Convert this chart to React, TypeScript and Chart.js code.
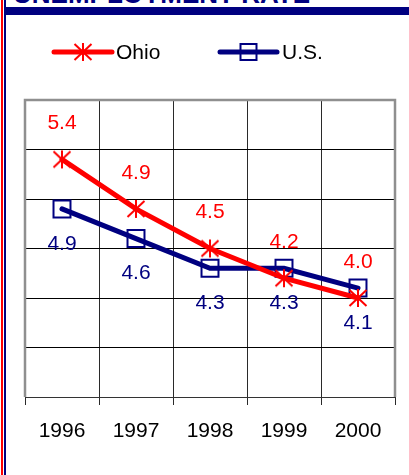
import React, { useEffect, useRef } from "react";
import { Chart, registerables } from "chart.js";

Chart.register(...registerables);

const titleText = "UNEMPLOYMENT RATE";
const years = ["1996", "1997", "1998", "1999", "2000"];
const ohioValues = [5.4, 4.9, 4.5, 4.2, 4.0];
const usValues = [4.9, 4.6, 4.3, 4.3, 4.1];
const seriesNames = ["Ohio", "U.S."];
const yMin = 3;
const yMax = 6;
const yStep = 0.5;

const RED = "#FF0000";
const NAVY = "#000080";
const FONT = "Arial, 'Liberation Sans', sans-serif";

function makeAsterisk(color: string): HTMLCanvasElement {
  const c = document.createElement("canvas");
  const s = 22;
  c.width = s;
  c.height = s;
  const ctx = c.getContext("2d")!;
  const cx = s / 2;
  const cy = s / 2;
  ctx.strokeStyle = color;
  ctx.lineWidth = 2;
  ctx.beginPath();
  ctx.moveTo(cx, cy - 9);
  ctx.lineTo(cx, cy + 9);
  ctx.moveTo(cx - 8.5, cy - 8);
  ctx.lineTo(cx + 8.5, cy + 8);
  ctx.moveTo(cx + 8.5, cy - 8);
  ctx.lineTo(cx - 8.5, cy + 8);
  ctx.stroke();
  return c;
}

export default function App() {
  const ref = useRef<HTMLCanvasElement | null>(null);

  useEffect(() => {
    if (!ref.current) return;
    const aster = makeAsterisk(RED);

    const framePlugin = {
      id: "frame",
      beforeDatasetsDraw(chart: any) {
        const { ctx, chartArea: a } = chart;
        ctx.save();
        ctx.strokeStyle = "#8f8f8f";
        ctx.lineWidth = 2.5;
        ctx.beginPath();
        ctx.moveTo(a.left, a.bottom);
        ctx.lineTo(a.left, a.top);
        ctx.lineTo(a.right, a.top);
        ctx.lineTo(a.right, a.bottom);
        ctx.stroke();
        ctx.restore();
      },
    };

    const labelPlugin = {
      id: "vlabels",
      afterDatasetsDraw(chart: any) {
        const { ctx } = chart;
        ctx.save();
        ctx.font = `21px ${FONT}`;
        ctx.textAlign = "center";
        ctx.textBaseline = "middle";
        chart.data.datasets.forEach((ds: any, di: number) => {
          const meta = chart.getDatasetMeta(di);
          ctx.fillStyle = ds.borderColor;
          meta.data.forEach((pt: any, i: number) => {
            const v = ds.data[i] as number;
            const dy = di === 0 ? -36 : 35;
            ctx.fillText(v.toFixed(1), pt.x, pt.y + dy);
          });
        });
        ctx.restore();
      },
    };

    const legendPlugin = {
      id: "customLegend",
      afterDraw(chart: any) {
        const { ctx } = chart;
        const items = [
          { name: seriesNames[0], color: RED, x0: 54, x1: 112, tx: 116, kind: "ast" },
          { name: seriesNames[1], color: NAVY, x0: 220, x1: 277, tx: 282, kind: "rect" },
        ];
        const y = 52;
        ctx.save();
        items.forEach((it) => {
          ctx.strokeStyle = it.color;
          ctx.lineWidth = 5;
          ctx.lineCap = "round";
          ctx.beginPath();
          ctx.moveTo(it.x0, y);
          ctx.lineTo(it.x1, y);
          ctx.stroke();
          const mx = (it.x0 + it.x1) / 2;
          if (it.kind === "ast") {
            ctx.drawImage(aster, mx - aster.width / 2, y - aster.height / 2);
          } else {
            ctx.lineWidth = 2;
            ctx.lineCap = "butt";
            ctx.strokeRect(mx - 8, y - 8, 16, 16);
          }
          ctx.fillStyle = "#000";
          ctx.font = `21px ${FONT}`;
          ctx.textAlign = "left";
          ctx.textBaseline = "middle";
          ctx.fillText(it.name, it.tx, y + 1);
        });
        ctx.restore();
      },
    };

    const chart = new Chart(ref.current, {
      type: "line",
      data: {
        labels: years,
        datasets: [
          {
            label: seriesNames[0],
            data: ohioValues,
            borderColor: RED,
            backgroundColor: RED,
            borderWidth: 5,
            borderCapStyle: "round",
            tension: 0,
            pointStyle: aster as any,
            pointRadius: 9,
            pointHoverRadius: 9,
          },
          {
            label: seriesNames[1],
            data: usValues,
            borderColor: NAVY,
            backgroundColor: "transparent",
            borderWidth: 5,
            borderCapStyle: "round",
            tension: 0,
            pointStyle: "rect",
            pointRadius: 12,
            pointHoverRadius: 12,
            pointBorderWidth: 2,
            pointBorderColor: NAVY,
            pointBackgroundColor: "transparent",
          },
        ],
      },
      options: {
        responsive: false,
        animation: false,
        devicePixelRatio: 1,
        events: [],
        layout: { padding: { left: 25, right: 14, top: 100, bottom: 33 } },
        plugins: {
          legend: { display: false },
          title: { display: false },
          tooltip: { enabled: false },
        },
        scales: {
          x: {
            offset: true,
            grid: {
              offset: true,
              color: "#2a2a2a",
              lineWidth: 1,
              drawTicks: true,
              tickLength: 8,
            },
            border: { display: true, color: "#333", width: 1 },
            ticks: {
              color: "#000",
              font: { family: FONT, size: 21 },
              padding: 14,
              maxRotation: 0,
              autoSkip: false,
            },
            afterFit: (s: any) => {
              s.height = 45;
            },
          },
          y: {
            min: yMin,
            max: yMax,
            ticks: { display: false, stepSize: yStep },
            grid: { color: "#000", lineWidth: 1, drawTicks: false },
            border: { display: false },
            afterFit: (s: any) => {
              s.width = 0;
            },
          },
        },
      },
      plugins: [framePlugin, labelPlugin, legendPlugin],
    });
    return () => chart.destroy();
  }, []);

  return (
    <div
      style={{
        position: "fixed",
        left: 0,
        top: 0,
        width: 409,
        height: 475,
        background: "#fff",
        overflow: "hidden",
      }}
    >
      <div
        style={{
          position: "absolute",
          left: 13,
          top: -19,
          fontFamily: FONT,
          fontWeight: "bold",
          fontSize: 26,
          lineHeight: "26px",
          color: NAVY,
          whiteSpace: "nowrap",
        }}
      >
        {titleText}
      </div>
      <div style={{ position: "absolute", left: 1, top: 0, width: 2, height: 475, background: RED }} />
      <div style={{ position: "absolute", left: 4, top: 0, width: 2, height: 475, background: NAVY }} />
      <div style={{ position: "absolute", left: 4, top: 7, width: 405, height: 8, background: NAVY }} />
      <canvas
        ref={ref}
        width={409}
        height={475}
        style={{ position: "absolute", left: 0, top: 0, width: 409, height: 475, display: "block" }}
      />
    </div>
  );
}
